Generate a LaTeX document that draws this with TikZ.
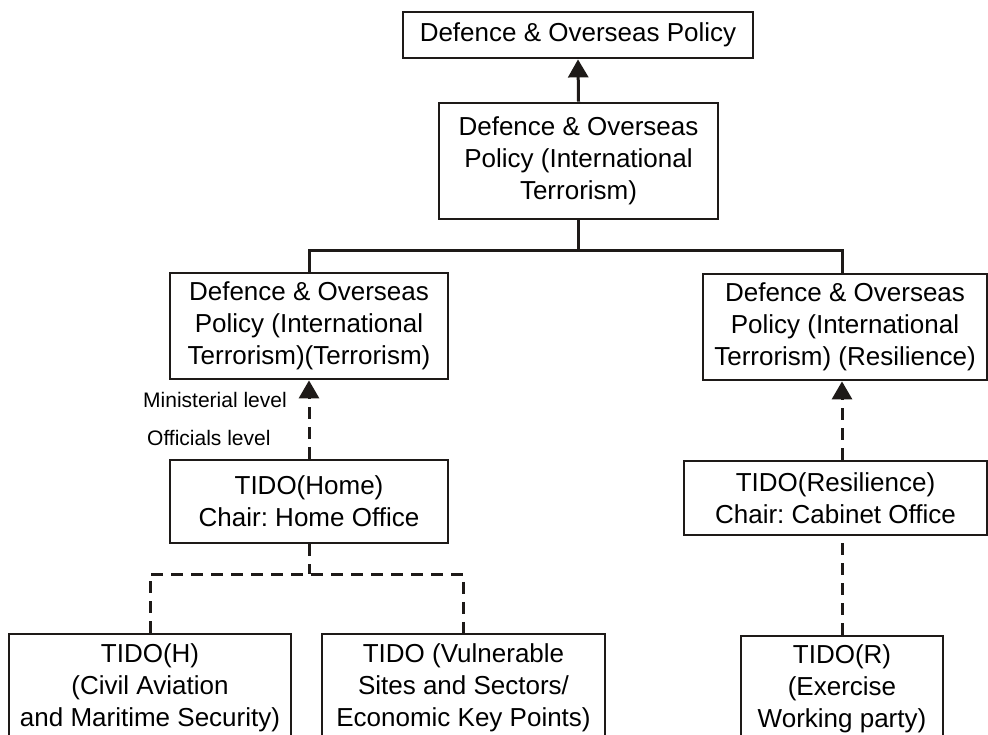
\documentclass[tikz,border=0pt]{standalone}
\usepackage{fontspec}
\setmainfont{Liberation Sans}
\usetikzlibrary{arrows.meta}
\definecolor{ink}{RGB}{30,26,24}
\tikzset{
  box/.style={draw=ink, line width=2.8pt, align=center, inner sep=0pt,
              text=black, font=\fontsize{26}{32}\selectfont\frenchspacing},
  link/.style={draw=ink, line width=3pt},
  dlink/.style={link, dash pattern=on 12pt off 8pt},
  tip/.style={-{Triangle[width=20pt,length=18pt]}},
  lbl/.style={anchor=west, inner sep=0pt, text=black,
              font=\fontsize{21}{25}\selectfont}
}
\begin{document}
\begin{tikzpicture}[x=1pt,y=-1pt]
  \useasboundingbox (0,0) rectangle (988,735);
  \clip (0,0) rectangle (988,735);

  % committees
  \node[box, minimum width=350pt, minimum height=46pt] (dop) at (578,35)
    {Defence \& Overseas Policy};
  \node[box, minimum width=279pt, minimum height=116pt] (dopit) at (578.5,161)
    {Defence \& Overseas\\Policy (International\\Terrorism)};
  \node[box, minimum width=278pt, minimum height=106pt] (dopitt) at (309,326)
    {Defence \& Overseas\\Policy (International\\Terrorism)(Terrorism)};
  \node[box, minimum width=284pt, minimum height=106pt] (dopitr) at (845,327)
    {Defence \& Overseas\\Policy (International\\Terrorism) (Resilience)};
  \node[box, minimum width=278pt, minimum height=83pt] (home) at (309,501.5)
    {TIDO(Home)\\Chair: Home Office};
  \node[box, minimum width=303pt, minimum height=74pt] (res) at (835.5,498)
    {TIDO(Resilience)\\Chair: Cabinet Office};
  \node[box, minimum width=282pt, minimum height=108pt] (th) at (150,688)
    {TIDO(H)\\(Civil Aviation\\and Maritime Security)};
  \node[box, minimum width=283pt, minimum height=108pt] (tv) at (463.5,688)
    {TIDO (Vulnerable\\Sites and Sectors/\\Economic Key Points)};
  \node[box, minimum width=202pt, minimum height=106pt] (tr) at (842,689)
    {TIDO(R)\\(Exercise\\Working party)};

  % level labels
  \node[lbl] (minlvl) at (143,400) {Ministerial level};
  \node[lbl] (offlvl) at (147,438) {Officials level};

  % ministerial tree
  \coordinate (busA) at (0,251);
  \draw[link, tip] (dopit.north) -- (dop.south);
  \draw[link] (dopit.south) -- (dopit.south |- busA);
  \draw[link] (dopitt.north) |- (tr.north |- busA) -- (tr.north |- dopitr.north);

  % officials links
  \coordinate (busB) at (0,574);
  \draw[dlink, tip] (home.north) -- (home.north |- dopitt.south);
  \draw[dlink, tip] (tr.north |- res.north) -- (tr.north |- dopitr.south);
  \draw[dlink] (tr.north) -- (tr.north |- res.south);
  \draw[dlink] (home.south) -- (home.south |- busB);
  \draw[dlink] (th.north) -- (th.north |- busB) -- (tv.north |- busB) -- (tv.north);
\end{tikzpicture}
\end{document}
